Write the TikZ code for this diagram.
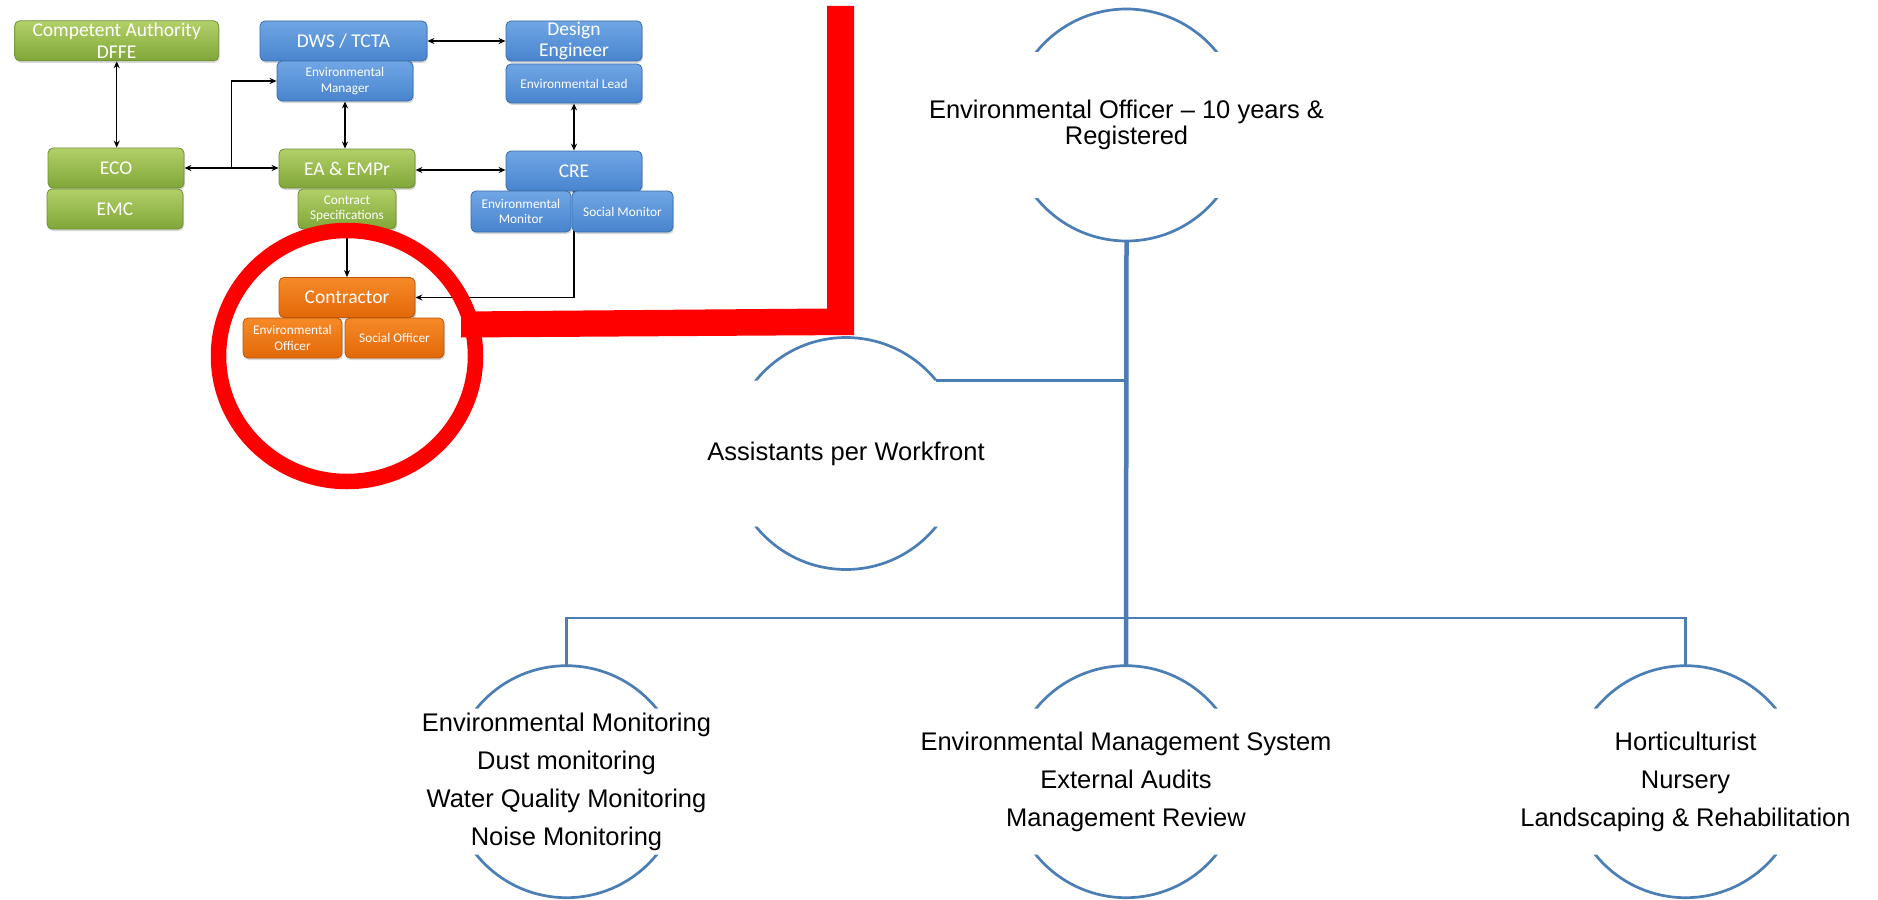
\documentclass[tikz,border=0pt]{standalone}
\usepackage{fontspec}
\newfontfamily\boxfont{Carlito}
\newfontfamily\chartfont{Liberation Sans}
\usetikzlibrary{arrows.meta,shadows,calc}
\pgfdeclarelayer{bg}
\pgfsetlayers{bg,main}

\definecolor{grtop}{RGB}{178,208,104}
\definecolor{grbot}{RGB}{128,166,56}
\definecolor{grline}{RGB}{112,142,52}
\definecolor{bltop}{RGB}{112,166,228}
\definecolor{blbot}{RGB}{72,132,206}
\definecolor{blline}{RGB}{58,108,168}
\definecolor{ortop}{RGB}{247,138,40}
\definecolor{orbot}{RGB}{226,104,8}
\definecolor{orline}{RGB}{186,86,10}
\definecolor{chartblue}{RGB}{74,126,180}
\definecolor{hilite}{RGB}{255,0,0}

\tikzset{
  box/.style={rectangle, rounded corners=5pt, line width=0.8pt, inner sep=0pt,
    align=center, text=white, font=\boxfont\fontsize{19.5}{21.5}\selectfont,
    drop shadow={shadow xshift=1pt, shadow yshift=-2pt, opacity=0.3}},
  gbox/.style={box, draw=grline, top color=grtop, bottom color=grbot},
  bbox/.style={box, draw=blline, top color=bltop, bottom color=blbot},
  obox/.style={box, draw=orline, top color=ortop, bottom color=orbot},
  small/.style={font=\boxfont\fontsize{13.3}{15.5}\selectfont},
  arr/.style={-{Stealth[length=7pt,width=6pt]}, line width=1.5pt, black},
  darr/.style={{Stealth[length=7pt,width=6pt]}-{Stealth[length=7pt,width=6pt]}, line width=1.5pt, black},
  circ/.style={circle, minimum size=232pt, inner sep=0pt, outer sep=0pt},
  ctext/.style={align=center, inner sep=0pt, font=\chartfont\fontsize{25.5}{38}\selectfont},
  link/.style={chartblue, line width=2.7pt},
  arcline/.style={chartblue, line width=2.7pt},
}

\newcommand\arcpair[1]{%
  \begin{scope}
    \clip ($(#1.center)+(-140,-140)$) rectangle ($(#1.center)+(140,-73)$)
          ($(#1.center)+(-140,73)$) rectangle ($(#1.center)+(140,140)$);
    \draw[arcline] (#1.center) circle[radius=116pt];
  \end{scope}}

\begin{document}
\begin{tikzpicture}[x=1pt,y=-1pt]
\useasboundingbox (0,0) rectangle (1878,899);

% ---------- left organisation diagram ----------
\node[gbox, minimum width=204pt, minimum height=40pt] (ca) at (116.7,40.8) {Competent Authority\\DFFE};
\node[bbox, minimum width=167pt, minimum height=40pt] (dws) at (343.5,41) {DWS / TCTA};
\node[bbox, small, minimum width=136pt, minimum height=40pt] (em) at (345,81) {Environmental\\Manager};
\node[bbox, minimum width=136pt, minimum height=40pt] (de) at (574,41) {Design\\Engineer};
\node[bbox, small, minimum width=136pt, minimum height=39pt] (el) at (574,83.5) {Environmental Lead};
\node[gbox, minimum width=136pt, minimum height=40pt] (eco) at (116,168) {ECO};
\node[gbox, minimum width=136pt, minimum height=40pt] (emc) at (115,209) {EMC};
\node[gbox, minimum width=136pt, minimum height=39pt] (ea) at (347,168.5) {EA \& EMPr};
\node[gbox, small, minimum width=98pt, minimum height=40pt] (cs) at (347,209) {Contract\\Specifications};
\node[bbox, minimum width=136pt, minimum height=40pt] (cre) at (574,171) {CRE};
\node[bbox, small, minimum width=100pt, minimum height=41pt] (envmon) at (521,211.5) {Environmental\\Monitor};
\node[bbox, small, minimum width=101pt, minimum height=41pt] (socmon) at (622.5,211.5) {Social Monitor};
\node[obox, minimum width=136pt, minimum height=40pt] (con) at (347,297.5) {Contractor};
\node[obox, small, minimum width=99pt, minimum height=40pt] (eo) at (292.5,338) {Environmental\\Officer};
\node[obox, small, minimum width=99pt, minimum height=40pt] (so) at (394.5,338) {Social Officer};

\begin{pgfonlayer}{bg}
  \fill[white] (0,0) rectangle (1878,899);
  \draw[darr] (ca.south) -- (ca.south |- eco.north);
  \draw[darr] (eco.east) -- (eco.east -| ea.west);
  \coordinate (jb) at ($(eco.east)!0.5!(ea.west)$);
  \draw[arr] (jb) |- (em.west);
  \draw[darr] (em.south) -- (em.south |- ea.north);
  \draw[darr] (dws.east) -- (dws.east -| de.west);
  \draw[darr] (el.south) -- (el.south |- cre.north);
  \coordinate (eae) at ($(ea.east)+(0,1.5)$);
  \draw[darr] (eae) -- (eae -| cre.west);
  \draw[arr] (cs.south) -- (cs.south |- con.north);
  \draw[arr] (cre.south) |- (con.east);
\end{pgfonlayer}

% ---------- red highlight ----------
\fill[hilite] (827,6) -- (854,6) -- (854,335) -- (461,337.5) -- (461,311.5) -- (827,308.5) -- cycle;
\draw[hilite, line width=15.5pt] (347,356) ellipse[x radius=128.5, y radius=125.5];

% ---------- right organisation chart ----------
\node[circ] (top) at (1126.5,125) {};
\node[circ] (asst) at (846,453.5) {};
\node[circ] (lft) at (566.5,781.7) {};
\node[circ] (mid) at (1126,781.7) {};
\node[circ] (rgt) at (1685.5,781.7) {};

\arcpair{top}
\arcpair{asst}
\arcpair{lft}
\arcpair{mid}
\arcpair{rgt}

\node[ctext, font=\chartfont\fontsize{25.5}{26}\selectfont] (topt) at (top) {Environmental Officer – 10 years \&\\Registered};
\node[ctext] (asstt) at (asst) {Assistants per Workfront};
\node[ctext] (lftt) at (lft) {Environmental Monitoring\\Dust monitoring\\Water Quality Monitoring\\Noise Monitoring};
\node[ctext] (midt) at (mid) {Environmental Management System\\External Audits\\Management Review};
\node[ctext] (rgtt) at (rgt) {Horticulturist\\Nursery\\Landscaping \& Rehabilitation};

\draw[link, line width=4.5pt] (top.south) -- (mid.north);
\coordinate (ja) at (top.south |- asst.39);
\draw[link] (asst.39) -- (ja);
\coordinate (bar) at ($(mid.north)+(0,-47.7)$);
\draw[link] (lft.north) |- (bar) -| (rgt.north);
\end{tikzpicture}
\end{document}
